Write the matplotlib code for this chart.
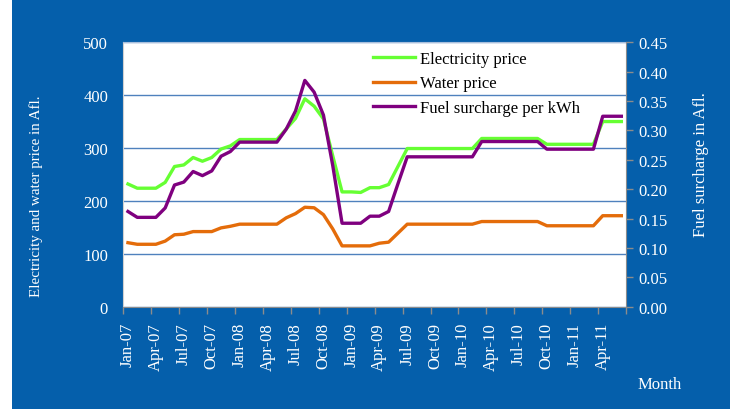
import numpy as np
import matplotlib
matplotlib.use("Agg")
import matplotlib.pyplot as plt
from matplotlib.patches import Rectangle
from matplotlib.ticker import FormatStrFormatter

plt.rcParams['font.family'] = ['Liberation Serif', 'DejaVu Serif']

month_names = ['Jan', 'Feb', 'Mar', 'Apr', 'May', 'Jun',
               'Jul', 'Aug', 'Sep', 'Oct', 'Nov', 'Dec']
months = [f"{m}-{y:02d}" for y in range(7, 12) for m in month_names][:54]

electricity = [232, 224, 224, 224, 235, 265, 268, 282, 275, 282, 298, 304,
               316, 316, 316, 316, 316, 336, 356, 393, 379, 355, 285, 217,
               217, 216, 225, 225, 231, 265, 299, 299, 299, 299, 299, 299,
               299, 299, 318, 318, 318, 318, 318, 318, 318, 307, 307, 307,
               307, 307, 307, 350, 350, 350]
water = [121, 118, 118, 118, 124, 136, 137, 142, 142, 142, 149, 152,
         156, 156, 156, 156, 156, 168, 176, 188, 187, 174, 147, 115,
         115, 115, 115, 120, 122, 139, 156, 156, 156, 156, 156, 156,
         156, 156, 161, 161, 161, 161, 161, 161, 161, 153, 153, 153,
         153, 153, 153, 172, 172, 172]
fuel = [0.162, 0.152, 0.152, 0.152, 0.168, 0.207, 0.212, 0.230, 0.223, 0.231, 0.256, 0.264,
        0.280, 0.280, 0.280, 0.280, 0.280, 0.302, 0.333, 0.385, 0.365, 0.326, 0.240, 0.142,
        0.142, 0.142, 0.154, 0.154, 0.162, 0.209, 0.255, 0.255, 0.255, 0.255, 0.255, 0.255,
        0.255, 0.255, 0.281, 0.281, 0.281, 0.281, 0.281, 0.281, 0.281, 0.268, 0.268, 0.268,
        0.268, 0.268, 0.268, 0.324, 0.324, 0.324]

left_ticks = [0, 100, 200, 300, 400, 500]
right_ticks = [0.00, 0.05, 0.10, 0.15, 0.20, 0.25, 0.30, 0.35, 0.40, 0.45]

BG = '#055FAB'
W, H = 730, 410
fig = plt.figure(figsize=(W / 100, H / 100), dpi=100, facecolor=BG)
fig.patches.append(Rectangle((0, 0), 12 / W, 1, transform=fig.transFigure,
                             facecolor='white', edgecolor='none', zorder=0))

L, R, T, B = 123.3, 626.0, 43.2, 307.7
ax = fig.add_axes([L / W, 1 - B / H, (R - L) / W, (B - T) / H])
ax.set_facecolor('white')
x = np.arange(len(months))

l1, = ax.plot(x, electricity, color='#66FF33', lw=2.4, label='Electricity price')
l2, = ax.plot(x, water, color='#E46C0A', lw=2.4, label='Water price')
ax.set_xlim(-0.5, len(months) - 0.5)
ax.set_ylim(0, 500)
ax.set_yticks(left_ticks)
ax.grid(axis='y', color='#4F81BD', lw=1.0)
ax.set_axisbelow(True)
ax.tick_params(axis='y', length=0, pad=11, labelcolor='white', labelsize=12)

ax.set_xticks(x[::3])
ax.set_xticklabels(months[::3], rotation=90)
ax.set_xticks(np.arange(-0.5, len(months), 3), minor=True)
ax.tick_params(axis='x', which='major', length=0, pad=11, labelcolor='white', labelsize=12)
ax.tick_params(axis='x', which='minor', length=5, color='#8C8C8C', width=1)

ax2 = ax.twinx()
l3, = ax2.plot(x, fuel, color='#7F007F', lw=2.4, label='Fuel surcharge per kWh')
ax2.set_ylim(0, 0.45)
ax2.set_yticks(right_ticks)
ax2.yaxis.set_major_formatter(FormatStrFormatter('%.2f'))
ax2.tick_params(axis='y', length=5, color='#8C8C8C', width=1, pad=4,
                labelcolor='white', labelsize=12)

for a in (ax, ax2):
    for s in a.spines.values():
        s.set_visible(False)
ax.spines['left'].set_visible(True)
ax.spines['left'].set_color('#D0D0D0')
ax.spines['top'].set_visible(True)
ax.spines['top'].set_color('#A9BFDC')
ax2.spines['right'].set_visible(True)
ax2.spines['right'].set_color('#8C8C8C')
ax2.spines['bottom'].set_visible(True)
ax2.spines['bottom'].set_color('#8C8C8C')

ax2.legend(handles=[l1, l2, l3], loc='upper left', frameon=False,
           bbox_to_anchor=(373 / W, 1 - 52 / H), bbox_transform=fig.transFigure,
           fontsize=12, handlelength=2.5, handletextpad=0.3, labelspacing=0.5,
           borderpad=0, borderaxespad=0)

fig.text(36 / W, 1 - 196 / H, 'Electricity and water price in Afl.', rotation=90,
         ha='center', va='center', color='white', fontsize=10.8)
fig.text(701 / W, 1 - 165 / H, 'Fuel surcharge in Afl.', rotation=90,
         ha='center', va='center', color='white', fontsize=12)
fig.text(660 / W, 1 - 385 / H, 'Month', ha='center', va='center',
         color='white', fontsize=12)

fig.savefig('out.png', dpi=100, facecolor=BG)
